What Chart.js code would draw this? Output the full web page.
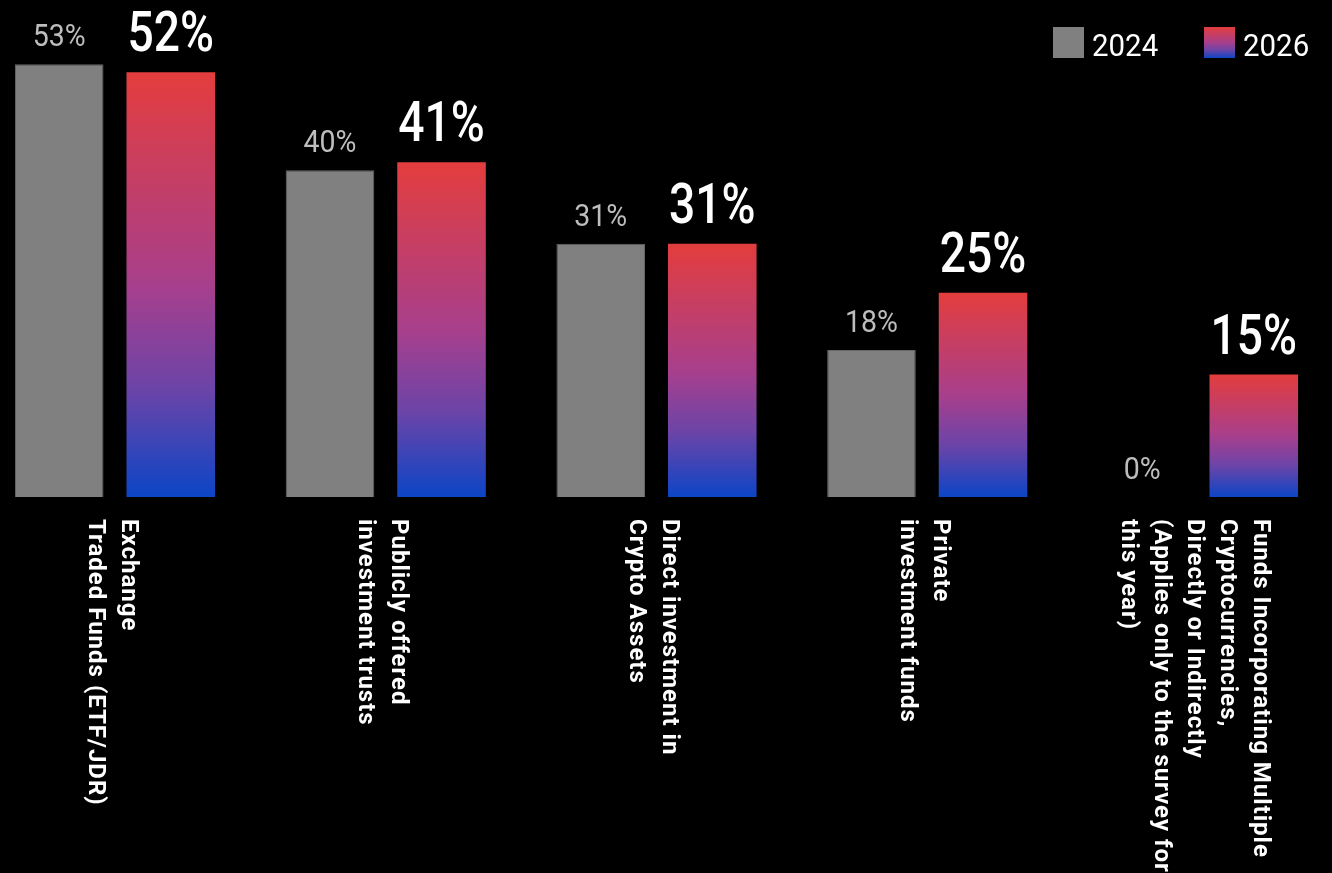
<!DOCTYPE html>
<html>
<head>
<meta charset="utf-8">
<script src="https://cdn.jsdelivr.net/npm/chart.js@4.4.1/dist/chart.umd.min.js"></script>
<style>
  html, body { margin: 0; padding: 0; background: #000; }
  #wrap { width: 1332px; height: 873px; position: relative; }
</style>
</head>
<body>
<div id="wrap"><canvas id="chart" width="1332" height="873"></canvas></div>
<script>
const categories = [
  ['Exchange', 'Traded Funds (ETF/JDR)'],
  ['Publicly offered', 'investment trusts'],
  ['Direct investment in', 'Crypto Assets'],
  ['Private', 'investment funds'],
  ['Funds Incorporating Multiple', 'Cryptocurrencies,', 'Directly or Indirectly', '(Applies only to the survey for', 'this year)']
];
const values2024 = [53, 40, 31, 18, 0];
const values2026 = [52, 41, 31, 25, 15];
const seriesNames = ['2024', '2026'];

function barGradient(ctx, top, bottom) {
  const g = ctx.createLinearGradient(0, top, 0, bottom);
  g.addColorStop(0, '#e33d3d');
  g.addColorStop(0.5, '#a83f8c');
  g.addColorStop(0.75, '#6a44a8');
  g.addColorStop(1, '#0c45c6');
  return g;
}

// gradient from each bar's top to the baseline
function gradientFill(context) {
  const chart = context.chart;
  if (!chart.chartArea) return '#e33d3d';
  const y = chart.scales.y;
  const top = y.getPixelForValue(context.raw);
  const bottom = y.getPixelForValue(0);
  return barGradient(chart.ctx, top, bottom);
}

function drawCondensed(ctx, text, x, y, sx) {
  ctx.save();
  ctx.translate(x, y);
  ctx.scale(sx, 1);
  ctx.fillText(text, 0, 0);
  ctx.restore();
}

const valueLabels = {
  id: 'valueLabels',
  afterDatasetsDraw(chart) {
    const ctx = chart.ctx;
    ctx.save();
    ctx.textAlign = 'center';
    ctx.textBaseline = 'alphabetic';
    chart.data.datasets.forEach((ds, di) => {
      const meta = chart.getDatasetMeta(di);
      meta.data.forEach((bar, i) => {
        const v = ds.data[i];
        if (di === 0) {
          ctx.fillStyle = '#bdbdbd';
          ctx.font = '400 31px Roboto';
          drawCondensed(ctx, v + '%', bar.x, bar.y - 18, 0.92);
        } else {
          ctx.fillStyle = '#ffffff';
          ctx.font = '500 55px Roboto';
          drawCondensed(ctx, v + '%', bar.x, bar.y - 21, 0.84);
        }
      });
    });
    ctx.restore();
  }
};

const categoryLabels = {
  id: 'categoryLabels',
  afterDraw(chart) {
    const ctx = chart.ctx;
    const x = chart.scales.x;
    const lh = 33;
    ctx.save();
    ctx.fillStyle = '#ffffff';
    ctx.font = 'bold 24px Roboto';
    ctx.letterSpacing = '1px';
    ctx.textAlign = 'left';
    ctx.textBaseline = 'middle';
    categories.forEach((lines, i) => {
      const cx = x.getPixelForValue(i) - 4;
      const n = lines.length;
      lines.forEach((line, j) => {
        const lx = cx + ((n - 1) / 2 - j) * lh;
        ctx.save();
        ctx.translate(lx, 519);
        ctx.rotate(Math.PI / 2);
        ctx.fillText(line, 0, 0);
        ctx.restore();
      });
    });
    ctx.restore();
  }
};

const legendBoxes = {
  id: 'legendBoxes',
  afterDraw(chart) {
    const ctx = chart.ctx;
    const items = [
      { x: 1053, fill: '#808080' },
      { x: 1204, fill: null }
    ];
    ctx.save();
    ctx.font = '400 32px Roboto';
    ctx.textAlign = 'left';
    ctx.textBaseline = 'alphabetic';
    items.forEach((it, i) => {
      ctx.fillStyle = it.fill || barGradient(ctx, 27, 58);
      ctx.fillRect(it.x, 27, 31, 31);
      ctx.fillStyle = '#ffffff';
      drawCondensed(ctx, seriesNames[i], it.x + 39, 56, 0.92);
    });
    ctx.restore();
  }
};

new Chart(document.getElementById('chart'), {
  type: 'bar',
  data: {
    labels: categories,
    datasets: [
      {
        label: seriesNames[0],
        data: values2024,
        backgroundColor: '#808080',
        borderColor: '#666666',
        borderWidth: 1,
        clip: false
      },
      {
        label: seriesNames[1],
        data: values2026,
        backgroundColor: gradientFill,
        borderWidth: 0,
        clip: false
      }
    ]
  },
  options: {
    responsive: false,
    animation: false,
    categoryPercentage: 0.824,
    barPercentage: 0.794,
    layout: {
      padding: { top: 7, bottom: 376, left: 115, right: 134 }
    },
    plugins: {
      legend: { display: false },
      tooltip: { enabled: false }
    },
    scales: {
      x: { display: false, offset: false, grid: { display: false } },
      y: { display: false, min: 0, max: 60 }
    }
  },
  plugins: [valueLabels, categoryLabels, legendBoxes]
});
</script>
</body>
</html>
